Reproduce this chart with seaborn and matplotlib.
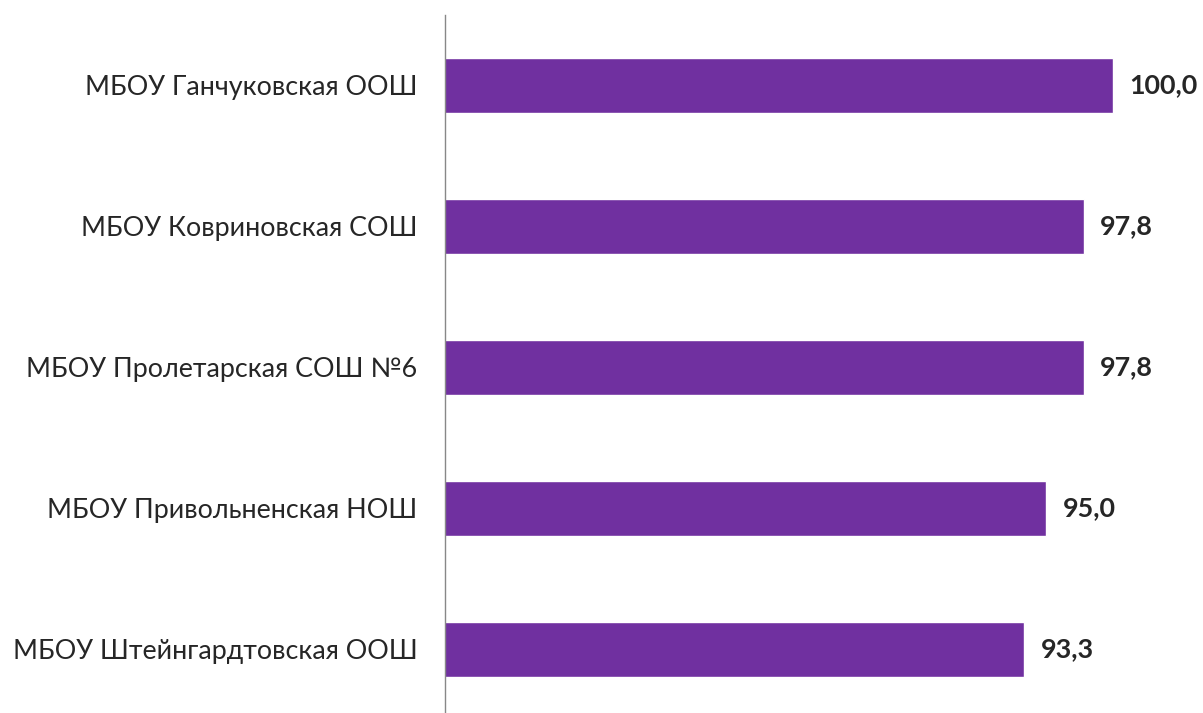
import pandas as pd
import matplotlib.pyplot as plt
import seaborn as sns

schools = ["МБОУ Ганчуковская ООШ", "МБОУ Ковриновская СОШ", "МБОУ Пролетарская СОШ №6",
           "МБОУ Привольненская НОШ", "МБОУ Штейнгардтовская ООШ"]
values = [100.0, 97.8, 97.8, 95.0, 93.3]

df = pd.DataFrame({"school": schools, "value": values})

sns.set_style("white")
plt.rcParams['font.family'] = ['Lato', 'DejaVu Sans']

fig = plt.figure(figsize=(12.03, 7.13), dpi=100)
# axis runs a bit past the bottom edge, as in the reference
ax = fig.add_axes([0.37, -0.0098, 0.63, 0.989])
sns.barplot(data=df, x="value", y="school", orient="h", color="#7030A0",
            width=0.39, saturation=1, ax=ax)

ax.set_xlim(49.7, 106.8)
ax.set_xlabel("")
ax.set_ylabel("")
ax.set_xticks([])
ax.tick_params(axis="y", length=0, pad=20, labelsize=19.4)
for s in ["top", "right", "bottom"]:
    ax.spines[s].set_visible(False)
ax.spines["left"].set_color("#888888")
ax.spines["left"].set_linewidth(1)

for i, v in enumerate(values):
    ax.annotate(f"{v:.1f}".replace(".", ","), (v, i), xytext=(12, 0),
                textcoords="offset points", va="center", ha="left",
                fontsize=19.4, fontweight="bold")

fig.savefig("out.png", dpi=100)
